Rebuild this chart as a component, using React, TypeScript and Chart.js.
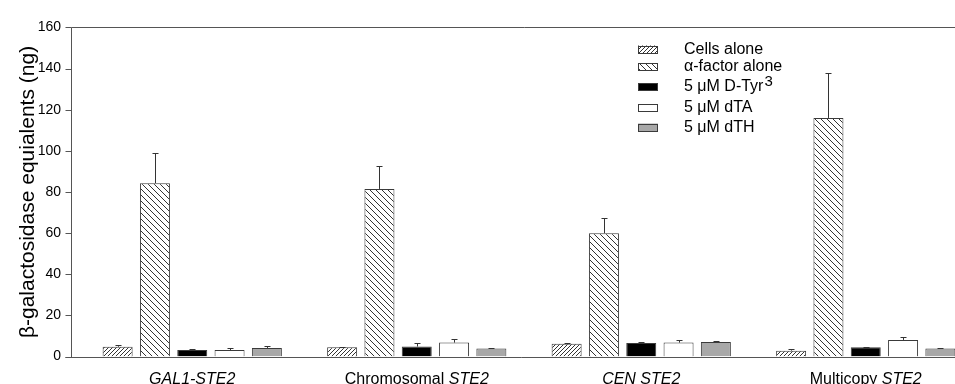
import React, { useEffect, useRef } from "react";
import { Chart, registerables } from "chart.js";

Chart.register(...registerables);

// ---------- data ----------
const categories = ["GAL1-STE2", "Chromosomal STE2", "CEN STE2", "Multicopy STE2"];
// label segments: [text, italic]
const categoryParts: [string, boolean][][] = [
  [["GAL1-STE2", true]],
  [["Chromosomal ", false], ["STE2", true]],
  [["CEN STE2", true]],
  [["Multicopy ", false], ["STE2", true]],
];

const seriesLabels = ["Cells alone", "α-factor alone", "5 μM D-Tyr", "5 μM dTA", "5 μM dTH"];
const seriesSup = ["", "", "3", "", ""];

const cellsAlone = [4.8, 4.5, 6.2, 2.9];
const cellsAloneErr = [0.7, 0.2, 0.4, 0.6];
const alphaFactor = [84.3, 81.5, 60.0, 116.0];
const alphaFactorErr = [14.5, 11.0, 7.5, 22.0];
const dTyr = [3.2, 4.9, 6.6, 4.6];
const dTyrErr = [0.4, 1.5, 0.3, 0.3];
const dTA = [3.2, 6.8, 6.8, 8.1];
const dTAErr = [0.9, 1.7, 1.3, 1.4];
const dTH = [4.2, 3.9, 7.1, 3.9];
const dTHErr = [0.9, 0.3, 0.5, 0.4];

const yMin = 0;
const yMax = 160;
const yStep = 20;
const yTitle = "β-galactosidase equialents (ng)";

const FONT = "'Liberation Sans', Arial, Helvetica, sans-serif";
const AXIS_COLOR = "#555";
const BAR_BORDER = "#3a3a3a";

function makeHatch(ctx: CanvasRenderingContext2D, kind: "fwd" | "back", size: number) {
  const c = document.createElement("canvas");
  c.width = size;
  c.height = size;
  const g = c.getContext("2d")!;
  g.fillStyle = "#fff";
  g.fillRect(0, 0, size, size);
  g.strokeStyle = "#333";
  g.lineWidth = 1;
  g.beginPath();
  for (const o of [-size, 0, size]) {
    if (kind === "fwd") {
      g.moveTo(o, size);
      g.lineTo(o + size, 0);
    } else {
      g.moveTo(o, 0);
      g.lineTo(o + size, size);
    }
  }
  g.stroke();
  return ctx.createPattern(c, "repeat")!;
}

export default function App() {
  const ref = useRef<HTMLCanvasElement | null>(null);

  useEffect(() => {
    const canvas = ref.current;
    if (!canvas) return;
    const ctx = canvas.getContext("2d")!;
    document.body.style.overflow = "hidden";

    const fills: any[] = [
      makeHatch(ctx, "fwd", 4),
      makeHatch(ctx, "back", 6),
      "#000000",
      "#ffffff",
      "#a8a8a8",
    ];
    const values = [cellsAlone, alphaFactor, dTyr, dTA, dTH];
    const errors = [cellsAloneErr, alphaFactorErr, dTyrErr, dTAErr, dTHErr];

    const legendRowsY = [49.5, 67, 87, 107.5, 127.5];

    const decor = {
      id: "decor",
      afterDatasetsDraw(chart: any) {
        const c = chart.ctx as CanvasRenderingContext2D;
        const ys = chart.scales.y;
        const xs = chart.scales.x;
        const area = chart.chartArea;
        c.save();
        // error bars
        c.strokeStyle = "#333";
        c.lineWidth = 1;
        errors.forEach((errArr, di) => {
          const meta = chart.getDatasetMeta(di);
          meta.data.forEach((bar: any, j: number) => {
            const v = values[di][j];
            const e = errArr[j];
            const x = Math.round(bar.x) + 0.5;
            const y0 = ys.getPixelForValue(v);
            const y1 = Math.round(ys.getPixelForValue(v + e)) + 0.5;
            c.beginPath();
            c.moveTo(x, y0);
            c.lineTo(x, y1);
            c.moveTo(x - 3, y1);
            c.lineTo(x + 3, y1);
            c.stroke();
          });
        });
        // axes frame
        const axX = area.left - 8.5;
        const top = Math.round(area.top) + 0.5;
        const bot = Math.round(area.bottom) + 0.5;
        c.strokeStyle = AXIS_COLOR;
        c.beginPath();
        c.moveTo(axX, top);
        c.lineTo(axX, bot);
        c.moveTo(axX, top);
        c.lineTo(area.right, top);
        c.moveTo(axX - 6, bot);
        c.lineTo(area.right, bot);
        for (let t = yMin; t <= yMax; t += yStep) {
          const y = Math.round(ys.getPixelForValue(t)) + 0.5;
          c.moveTo(axX - 6, y);
          c.lineTo(axX, y);
        }
        c.stroke();

        // x category labels
        c.fillStyle = "#000";
        c.textBaseline = "alphabetic";
        c.textAlign = "left";
        categoryParts.forEach((parts, i) => {
          const cx = xs.getPixelForValue(i);
          let total = 0;
          const widths = parts.map(([t, it]) => {
            c.font = `${it ? "italic " : ""}16px ${FONT}`;
            const w = c.measureText(t).width;
            total += w;
            return w;
          });
          let x = cx - total / 2;
          parts.forEach(([t, it], k) => {
            c.font = `${it ? "italic " : ""}16px ${FONT}`;
            c.fillText(t, x, 384);
            x += widths[k];
          });
        });

        // legend
        seriesLabels.forEach((lab, i) => {
          const cy = legendRowsY[i];
          c.fillStyle = fills[i];
          c.fillRect(638, cy - 4, 20, 8);
          c.strokeStyle = BAR_BORDER;
          c.strokeRect(638.5, Math.round(cy - 4) + 0.5, 19, 7);
          c.fillStyle = "#000";
          c.font = `16px ${FONT}`;
          c.textBaseline = "middle";
          c.fillText(lab, 684, cy);
          if (seriesSup[i]) {
            const w = c.measureText(lab).width;
            c.font = `15px ${FONT}`;
            c.fillText(seriesSup[i], 684 + w + 1, cy - 5);
          }
        });
        c.restore();
      },
    };

    const chart = new Chart(ctx, {
      type: "bar",
      data: {
        labels: categories,
        datasets: values.map((vals, i) => ({
          label: seriesLabels[i] + seriesSup[i],
          data: vals,
          backgroundColor: fills[i],
          borderColor: BAR_BORDER,
          borderWidth: 1,
          categoryPercentage: 0.831,
          barPercentage: 0.804,
        })),
      },
      options: {
        animation: false,
        responsive: false,
        devicePixelRatio: 1,
        layout: { padding: { top: 20, bottom: 24, left: 0, right: 12 } },
        plugins: { legend: { display: false }, tooltip: { enabled: false } },
        scales: {
          x: { display: false, grid: { display: false } },
          y: {
            min: yMin,
            max: yMax,
            grid: { display: false, drawTicks: false },
            border: { display: false },
            ticks: {
              stepSize: yStep,
              padding: 19,
              color: "#000",
              font: { family: FONT, size: 14 },
            },
            title: {
              display: true,
              text: yTitle,
              color: "#000",
              font: { family: FONT, size: 21 },
              padding: { top: 16, bottom: 0 },
            },
            afterFit(scale: any) {
              scale.width = 80;
            },
          },
        },
      },
      plugins: [decor],
    });

    return () => chart.destroy();
  }, []);

  return (
    <div
      style={{
        position: "fixed",
        left: 0,
        top: 0,
        width: 955,
        height: 384,
        overflow: "hidden",
        background: "#fff",
      }}
    >
      <canvas ref={ref} width={990} height={384} style={{ display: "block", width: 990, height: 384 }} />
    </div>
  );
}
